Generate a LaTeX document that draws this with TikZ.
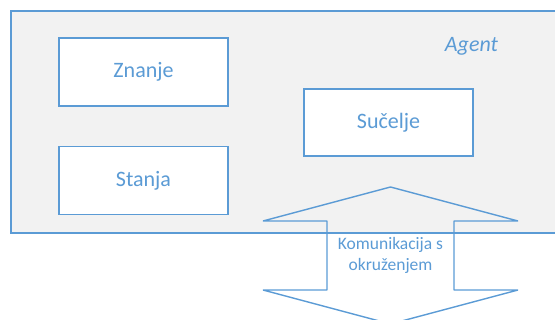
\documentclass[tikz,border=0pt]{standalone}
\usepackage{fontspec}
\setmainfont{Carlito}
\usetikzlibrary{positioning}
\definecolor{agentblue}{HTML}{5B9BD5}
\definecolor{agentgrey}{HTML}{F2F2F2}
\begin{document}
\begin{tikzpicture}[
  x=1pt, y=-1pt,
  outer/.style={rectangle, draw=agentblue, fill=agentgrey, line width=1.4pt, minimum width=554pt, minimum height=222pt, inner sep=0pt},
  part/.style={rectangle, draw=agentblue, fill=white, line width=1.4pt, minimum width=169pt, minimum height=68pt, inner sep=0pt, text=agentblue, font=\fontsize{22}{26}\selectfont},
  comm/.style={draw=agentblue, line width=1.4pt, line join=bevel},
  lbl/.style={text=agentblue, align=center, inner sep=0pt}
]
\useasboundingbox (0,0) rectangle (555,320);
\clip (0,0) rectangle (555,320);

\node[outer] (agent) at (288,122) {};
\node[lbl, font=\fontsize{22}{26}\selectfont\itshape] (agentname) at (471.5,46) {Agent};

\node[part] (znanje) at (143.5,72) {Znanje};
\node[part, below=39pt of znanje] (stanja) {Stanja};
\node[part, minimum height=67pt] (sucelje) at (388.5,122.5) {Sučelje};

% dvostruka strelica
\draw[comm] (390.5,187) -- (518,221) -- (454,221) -- (454,290) -- (518,290)
  -- (390.5,324) -- (263,290) -- (327,290) -- (327,221) -- (263,221) -- cycle;
\node[lbl, font=\fontsize{17.5}{21}\selectfont] (kom) at (390.5,255.5) {Komunikacija s\\okruženjem};
\end{tikzpicture}
\end{document}
